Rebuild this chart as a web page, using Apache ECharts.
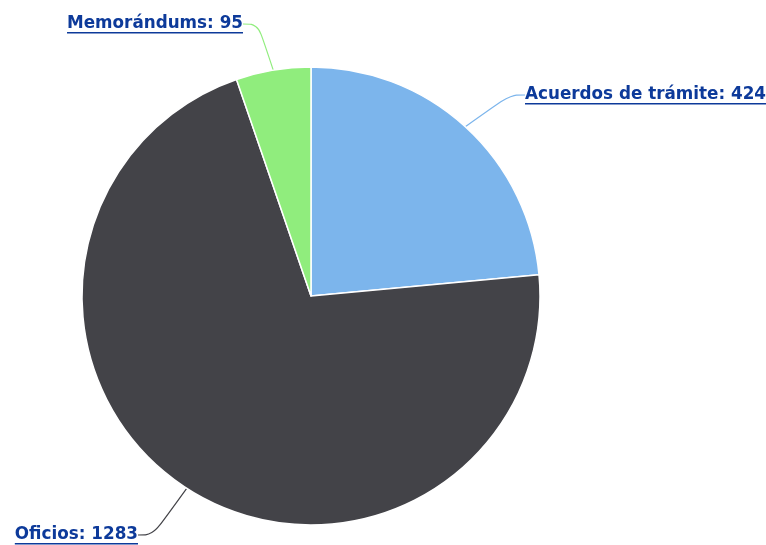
<!DOCTYPE html>
<html>
<head>
<meta charset="utf-8">
<script src="https://cdn.jsdelivr.net/npm/echarts@6/dist/echarts.min.js"></script>
<style>
  html, body { margin: 0; padding: 0; background: #fff; }
  #chart { width: 766px; height: 545px; }
</style>
</head>
<body>
<div id="chart"></div>
<script>
const categories = ['Acuerdos de trámite', 'Oficios', 'Memorándums'];
const values = [424, 1283, 95];
const colors = ['#7cb5ec', '#434348', '#90ed7d'];

// where each label sits, by data index
const labelSpots = [
  { x: 525, y: 95, align: 'left' },
  { x: 138, y: 535, align: 'right' },
  { x: 243, y: 24, align: 'right' },
];

const labelBlue = '#0d3a9a';
const underline = new echarts.graphic.LinearGradient(0, 0, 0, 1, [
  { offset: 0, color: 'rgba(255,255,255,0)' },
  { offset: 0.9, color: 'rgba(255,255,255,0)' },
  { offset: 0.9, color: labelBlue },
  { offset: 1, color: labelBlue },
]);

const chart = echarts.init(document.getElementById('chart'), null, { renderer: 'canvas' });

chart.setOption({
  backgroundColor: '#fff',
  animation: false,
  series: [{
    type: 'pie',
    radius: 229,
    center: [311, 296],
    startAngle: 90,
    clockwise: true,
    itemStyle: { borderColor: '#fff', borderWidth: 1.5 },
    label: {
      show: true,
      formatter: p => `${p.name}: ${p.value}`,
      fontFamily: 'DejaVu Sans',
      fontWeight: 'bold',
      fontSize: 16.8,
      lineHeight: 19,
      color: labelBlue,
      backgroundColor: underline,
    },
    labelLine: {
      show: true,
      length: 20,
      length2: 15,
      smooth: 0.4,
      lineStyle: { width: 1.2 },
    },
    labelLayout: p => {
      const s = labelSpots[p.dataIndex];
      if (!s) return {};
      return { x: s.x, y: s.y, align: s.align, verticalAlign: 'middle' };
    },
    data: categories.map((c, i) => ({
      name: c,
      value: values[i],
      itemStyle: { color: colors[i] },
      labelLine: { lineStyle: { color: colors[i] } },
    })),
  }],
});
</script>
</body>
</html>
